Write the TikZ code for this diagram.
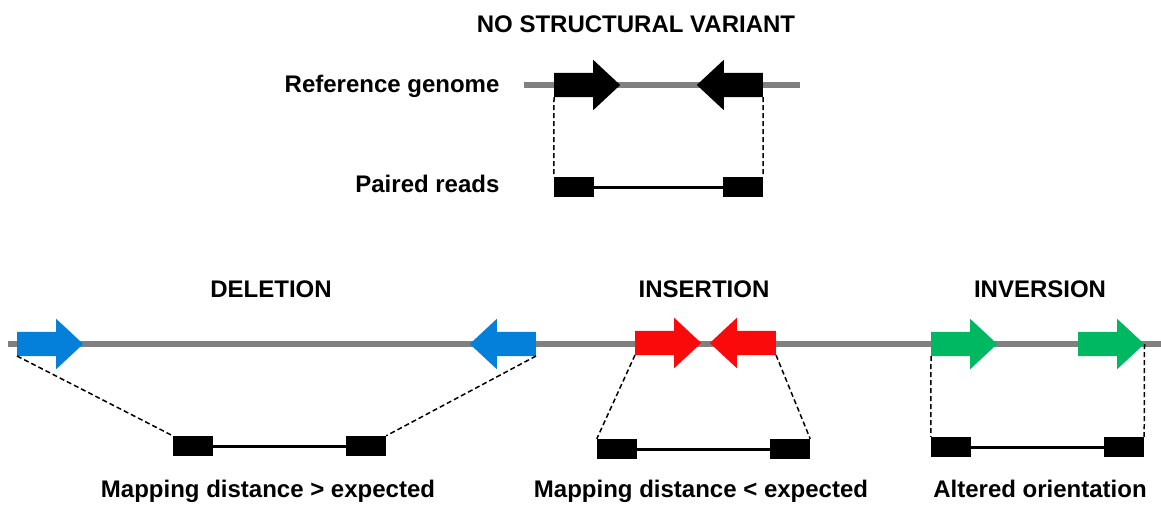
\documentclass[tikz,border=0pt]{standalone}
\usepackage{fontspec}
\setmainfont{Liberation Sans}
\usepackage{tikz}
\usetikzlibrary{shapes}
\definecolor{delblue}{RGB}{4,128,218}
\definecolor{insred}{RGB}{250,10,10}
\definecolor{invgreen}{RGB}{0,184,98}
\definecolor{genomegray}{RGB}{128,128,128}

\begin{document}
\begin{tikzpicture}[x = 1pt, y = -1pt,
	genome/.style = {line width = 6.5pt, color = genomegray},
	gene/.style = {single arrow, fill = #1, inner xsep = 0pt, inner ysep = 12pt, minimum height = 66pt, single arrow head extend = 13pt, single arrow tip angle = 86, anchor = tail},
	revgene/.style = {gene = #1, shape border rotate = 180},
	read/.style = {fill = black, inner sep = 0pt, minimum width = 40pt, minimum height = 20pt},
	link/.style = {line width = 3pt},
	guide/.style = {line width = 1.5pt, dash pattern = on 5pt off 3pt},
	lbl/.style = {font = \fontsize{24}{28}\selectfont\bfseries, anchor = base}]
	\useasboundingbox (0,0) rectangle (1161,504);

	% chromosomes
	\coordinate (refstart) at (524,85);
	\coordinate (refend) at (800,85);
	\coordinate (svstart) at (8,344);
	\coordinate (svend) at (1161,344);
	\draw[genome] (refstart) -- (refend);
	\draw[genome] (svstart) -- (svend);

	% mapped read pairs on the genome
	\node[gene = black] (refF) at (554,85) {};
	\node[revgene = black] (refR) at (763,85) {};
	\node[gene = delblue] (delF) at (17,344) {};
	\node[revgene = delblue] (delR) at (536,344) {};
	\node[gene = insred] (insF) at (635,343) {};
	\node[revgene = insred] (insR) at (776,343) {};
	\node[gene = invgreen] (invA) at (931,344) {};
	\node[gene = invgreen] (invB) at (1078,344) {};

	% the reads themselves
	\node[read] (refa) at (574,187) {};
	\node[read] (refb) at (743,187) {};
	\node[read] (dela) at (193,446) {};
	\node[read] (delb) at (366,446) {};
	\node[read] (insa) at (617,449) {};
	\node[read] (insb) at (790,449) {};
	\node[read] (inva) at (951,447) {};
	\node[read] (invb) at (1124,447) {};
	\draw[link] (refa.east) -- (refb.west);
	\draw[link] (dela.east) -- (delb.west);
	\draw[link] (insa.east) -- (insb.west);
	\draw[link] (inva.east) -- (invb.west);

	\draw[guide] ([yshift = -12pt]refF.tail) -- (refa.north west);
	\draw[guide] ([yshift = -12pt]refR.tail) -- (refb.north east);
	\draw[guide] ([yshift = -12pt]delF.tail) -- (dela.north west);
	\draw[guide] ([yshift = -12pt]delR.tail) -- (delb.north east);
	\draw[guide] ([yshift = -12pt]insF.tail) -- (insa.north west);
	\draw[guide] ([yshift = -12pt]insR.tail) -- (insb.north east);
	\draw[guide] ([yshift = -12pt]invA.tail) -- (inva.north west);
	\draw[guide] (invB.tip) -- (invb.north east);

	% texts
	\node[lbl] (nosv) at (636,32) {NO STRUCTURAL VARIANT};
	\node[lbl, anchor = base east] (reflabel) at (503,92) {Reference genome};
	\node[lbl, anchor = base east] (readlabel) at (503,192) {Paired reads};
	\node[lbl] (deltitle) at (271,297) {DELETION};
	\node[lbl] (institle) at (704,297) {INSERTION};
	\node[lbl] (invtitle) at (1040,297) {INVERSION};
	\node[lbl] (delnote) at (268,497) {Mapping distance > expected};
	\node[lbl] (insnote) at (701,497) {Mapping distance < expected};
	\node[lbl] (invnote) at (1040,497) {Altered orientation};
\end{tikzpicture}
\end{document}
